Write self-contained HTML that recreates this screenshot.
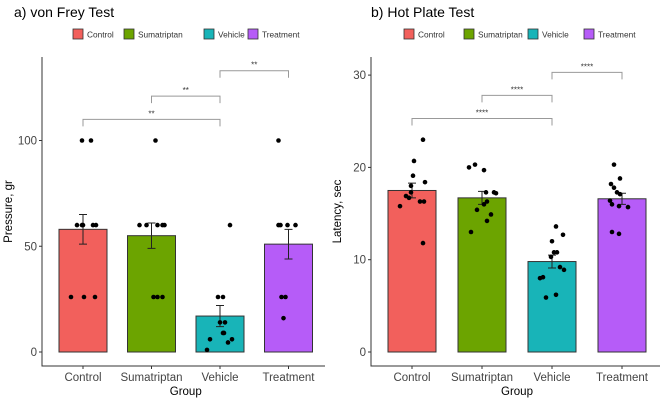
<!DOCTYPE html>
<html><head><meta charset="utf-8"><style>
body{margin:0;background:#fff;}
svg{display:block;font-family:"Liberation Sans",sans-serif;}
</style></head><body>
<svg id="c" width="669" height="401"></svg>
<script>
const categories=["Control","Sumatriptan","Vehicle","Treatment"];
const colors=["#F2605C","#6CA400","#18B4B8","#B65CF8"];
const vfMeans=[58,55,17,51];
const vfErr=[7,6,5,7];
const vfPoints=[[100,100,60,60,60,60,60,26,26,26],[100,60,60,60,60,60,26,26,26],[60,26,26,14,14,9,9,6,6,4.5,1],[100,60,60,60,60,26,26,16]];
const vfJitter=[[-1,8,-6,-1,0,10,13,-12,1,12],[4,-12,-5,6,11,13,2,6,11],[10,-2,3,0,5,4,3,-10,12,8,-13],[-10,-10,-8,-1,7,-7,-3,-5]];
const vfTicks=[0,50,100];
const vfBrackets=[[0,2,110,"**"],[1,2,121,"**"],[2,3,133,"**"]];
const hpMeans=[17.5,16.7,9.8,16.6];
const hpErr=[0.8,0.7,0.7,0.6];
const hpPoints=[[23.0,20.7,19.1,18.4,18.0,17.3,16.9,16.7,16.3,16.3,15.8,11.8],[20.0,20.3,19.7,17.3,17.3,17.2,16.3,15.4,16.0,14.9,14.2,13.0],[13.6,12.0,12.7,10.8,10.8,10.3,9.2,8.9,8.0,8.1,6.2,5.9],[20.3,18.8,18.2,17.8,17.3,17.1,16.4,16.0,15.8,15.7,13.0,12.8]];
const hpJitter=[[11,2,1,13,-1,-1,-6,-3,8,12,-12,11],[-13,-7,2,4,12,14,5,-5,2,9,5,-11],[4,0,11,2,5,-1,8,12,-12,-9,4,-6],[-8,-2,-11,-8,-5,-2,-12,-10,-3,6,-10,-3]];
const hpTicks=[0,10,20,30];
const hpBrackets=[[0,2,25.3,"****"],[1,2,27.8,"****"],[2,3,30.3,"****"]];

const svg=document.getElementById('c');
const NS="http://www.w3.org/2000/svg";
function el(tag,attrs,parent,text){const e=document.createElementNS(NS,tag);for(const k in attrs)e.setAttribute(k,attrs[k]);if(text!==undefined)e.textContent=text;(parent||svg).appendChild(e);return e;}

function panel(o){
  const g=el('g',{});
  
  
  const y=v=>o.y0-v*o.k;
  const x=i=>o.x0+i*o.dx;
  const t=el('text',{x:o.titleX,y:17,'font-size':14,fill:'#000'},g,o.title);
  
  
  categories.forEach((c,i)=>{
    const lx=o.legX[i];
    const le=el('g',{},g);
    
    
    el('rect',{x:lx,y:29,width:10,height:10,fill:colors[i],stroke:'#333','stroke-width':0.8},le);
    el('text',{x:lx+14,y:37.5,'font-size':8.3,fill:'#333'},le,c);
  });
  o.means.forEach((m,i)=>{
    const b=el('rect',{x:x(i)-24,y:y(m),width:48,height:y(0)-y(m),fill:colors[i],stroke:'#333','stroke-width':1},g);
    
    
  });
  o.means.forEach((m,i)=>{
    const e=el('path',{d:`M${x(i)},${y(m-o.err[i])}V${y(m+o.err[i])}M${x(i)-4},${y(m-o.err[i])}h8M${x(i)-4},${y(m+o.err[i])}h8`,stroke:'#222',fill:'none','stroke-width':1},g);
    
    
  });
  o.pts.forEach((arr,i)=>arr.forEach((v,j)=>{
    const p=el('circle',{cx:x(i)+o.jit[i][j],cy:y(v),r:2.3,fill:'#000'},g);
    
    
  }));
  o.br.forEach(b=>{
    const yy=y(b[2]);
    const bg=el('g',{},g);
    
    
    el('path',{d:`M${x(b[0])},${yy+7}V${yy}H${x(b[1])}V${yy+7}`,stroke:'#999',fill:'none','stroke-width':1},bg);
    el('text',{x:(x(b[0])+x(b[1]))/2,y:yy-3,'font-size':8,'text-anchor':'middle',fill:'#333'},bg,b[3]);
  });
  el('path',{d:`M${o.ax},57V366H${o.axEnd}`,stroke:'#333',fill:'none','stroke-width':1},g);
  o.ticks.forEach(tv=>{
    el('line',{x1:o.ax-3,x2:o.ax,y1:y(tv),y2:y(tv),stroke:'#333'},g);
    const tt=el('text',{x:o.ax-5,y:y(tv)+4,'font-size':11.5,'text-anchor':'end',fill:'#444'},g,tv);
    
    
  });
  categories.forEach((c,i)=>{
    el('line',{x1:x(i),x2:x(i),y1:366,y2:369,stroke:'#333'},g);
    const tt=el('text',{x:x(i),y:381,'font-size':11.5,'text-anchor':'middle',fill:'#444'},g,c);
    
    
  });
  const xt=el('text',{x:(x(0)+x(3))/2,y:395,'font-size':11.5,'text-anchor':'middle',fill:'#000'},g,'Group');
  
  
  const yt=el('text',{x:0,y:0,'font-size':11.5,'text-anchor':'middle',fill:'#000',transform:`translate(${o.ax-30},${(57+366)/2}) rotate(-90)`},g,o.ylab);
  
  
}
panel({name:'von-frey-panel',title:'a) von Frey Test',titleX:14,legX:[73,124,204,248],x0:83,dx:68.5,y0:352,k:2.115,ax:42,axEnd:325,means:vfMeans,err:vfErr,pts:vfPoints,jit:vfJitter,ticks:vfTicks,br:vfBrackets,ylab:'Pressure, gr'});
panel({name:'hot-plate-panel',title:'b) Hot Plate Test',titleX:371,legX:[404,464,528,584],x0:412,dx:70,y0:352,k:9.23,ax:371,axEnd:660,means:hpMeans,err:hpErr,pts:hpPoints,jit:hpJitter,ticks:hpTicks,br:hpBrackets,ylab:'Latency, sec'});
</script>
</body></html>
